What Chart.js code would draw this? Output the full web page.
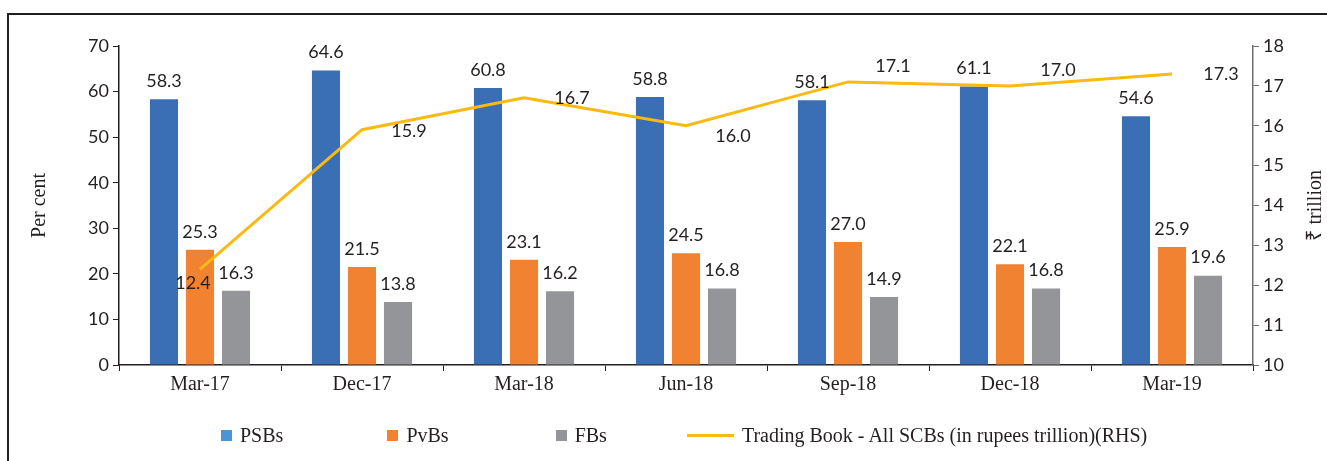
<!DOCTYPE html>
<html>
<head>
<meta charset="utf-8">
<script src="https://cdn.jsdelivr.net/npm/chart.js@4"></script>
<style>
  body { margin: 0; background: #fff; }
  #wrap { position: relative; width: 1327px; height: 461px; overflow: hidden; }
  #frame-top { position: absolute; left: 8px; top: 13px; width: 1319px; height: 2px; background: #231f20; }
  #frame-left { position: absolute; left: 7px; top: 13px; width: 2px; height: 448px; background: #231f20; }
  #legend { position: absolute; left: 221px; top: 424px; display: flex; align-items: center;
            font-family: "Liberation Serif", serif; font-size: 20px; color: #231f20; }
  .item { display: flex; align-items: center; white-space: nowrap; }
  .sw { width: 11px; height: 11px; margin-right: 8px; }
  .ln { width: 47px; height: 3px; margin-right: 8px; }
</style>
</head>
<body>
<div id="wrap">
  <div id="frame-top"></div>
  <div id="frame-left"></div>
  <canvas id="chart"></canvas>
  <div id="legend"></div>
</div>
<script>
// data
const labels = ["Mar-17", "Dec-17", "Mar-18", "Jun-18", "Sep-18", "Dec-18", "Mar-19"];
const psbs = [58.3, 64.6, 60.8, 58.8, 58.1, 61.1, 54.6];
const pvbs = [25.3, 21.5, 23.1, 24.5, 27.0, 22.1, 25.9];
const fbs = [16.3, 13.8, 16.2, 16.8, 14.9, 16.8, 19.6];
const tradingBook = [12.4, 15.9, 16.7, 16.0, 17.1, 17.0, 17.3];

// label nudges for the line values (dx, dy in px)
const lineLabelShift = [[-7, 14], [47, 1], [48, 0], [47, 10], [45, -16], [48, -16], [49, 0]];
// gaps in front of each legend entry
const legendGaps = [0, 104, 107, 80];

const ink = '#231f20';
const numFont = { family: 'Lato', size: 18 };
const txtFont = { family: 'Liberation Serif', size: 20 };

const valueLabels = {
  id: 'valueLabels',
  afterDatasetsDraw(chart) {
    const ctx = chart.ctx;
    ctx.save();
    ctx.font = '18px Lato';
    ctx.fillStyle = ink;
    ctx.textAlign = 'center';
    ctx.textBaseline = 'middle';
    chart.data.datasets.forEach((ds, i) => {
      const meta = chart.getDatasetMeta(i);
      meta.data.forEach((el, j) => {
        const txt = ds.data[j].toFixed(1);
        if (ds.type === 'line') {
          const s = lineLabelShift[j];
          ctx.fillText(txt, el.x + s[0], el.y + s[1]);
        } else {
          ctx.fillText(txt, el.x, el.y - 18);
        }
      });
    });
    // right axis title, reads bottom to top
    const a = chart.chartArea;
    ctx.font = '20px "Liberation Serif", "Noto Sans", serif';
    ctx.translate(1316, (a.top + a.bottom) / 2);
    ctx.rotate(-Math.PI / 2);
    ctx.fillText('₹ trillion', 0, 0);
    ctx.restore();
  }
};

const chart = new Chart(document.getElementById('chart'), {
  type: 'bar',
  data: {
    labels: labels,
    datasets: [
      { label: 'PSBs', data: psbs, backgroundColor: '#3a6fb6', legendColor: '#4a96d4', yAxisID: 'y', order: 2,
        categoryPercentage: 0.667, barPercentage: 0.78 },
      { label: 'PvBs', data: pvbs, backgroundColor: '#f08232', legendColor: '#f08232', yAxisID: 'y', order: 2,
        categoryPercentage: 0.667, barPercentage: 0.78 },
      { label: 'FBs', data: fbs, backgroundColor: '#939598', legendColor: '#939598', yAxisID: 'y', order: 2,
        categoryPercentage: 0.667, barPercentage: 0.78 },
      { type: 'line', label: 'Trading Book - All SCBs (in rupees trillion)(RHS)', data: tradingBook,
        borderColor: '#fbb913', backgroundColor: '#fbb913', legendColor: '#fbb913', borderWidth: 3,
        pointRadius: 0, tension: 0, yAxisID: 'y1', order: 1 }
    ]
  },
  options: {
    responsive: true,
    maintainAspectRatio: false,
    animation: false,
    layout: { padding: { left: 10, right: 0, top: 46, bottom: 56 } },
    plugins: {
      legend: { display: false },
      tooltip: { enabled: false }
    },
    scales: {
      x: {
        afterFit: s => { s.height = 40; },
        grid: { drawOnChartArea: false, drawTicks: true, tickLength: 6, color: ink },
        border: { color: ink, width: 1.5 },
        ticks: { color: ink, font: txtFont, padding: 2 }
      },
      y: {
        position: 'left',
        min: 0, max: 70,
        afterFit: s => { s.width = 109; },
        grid: { drawOnChartArea: false, drawTicks: true, tickLength: 6, color: ink },
        border: { color: ink, width: 1.5 },
        ticks: { stepSize: 10, color: ink, font: numFont, padding: 4 },
        title: { display: true, text: 'Per cent', color: ink, font: txtFont, padding: { top: 18, bottom: 0 } }
      },
      y1: {
        position: 'right',
        min: 10, max: 18,
        afterFit: s => { s.width = 74; },
        grid: { drawOnChartArea: false, drawTicks: true, tickLength: 6, color: '#6d6e71' },
        border: { color: '#6d6e71', width: 1.5 },
        ticks: { stepSize: 1, color: ink, font: numFont, padding: 4 }
      }
    }
  },
  plugins: [valueLabels]
});

// legend built from the chart's datasets
const legend = document.getElementById('legend');
chart.data.datasets.forEach((ds, i) => {
  const item = document.createElement('div');
  item.className = 'item';
  item.style.marginLeft = legendGaps[i] + 'px';
  const sw = document.createElement('span');
  sw.className = ds.type === 'line' ? 'ln' : 'sw';
  sw.style.background = ds.legendColor;
  item.appendChild(sw);
  item.appendChild(document.createTextNode(ds.label));
  legend.appendChild(item);
});
</script>
</body>
</html>
